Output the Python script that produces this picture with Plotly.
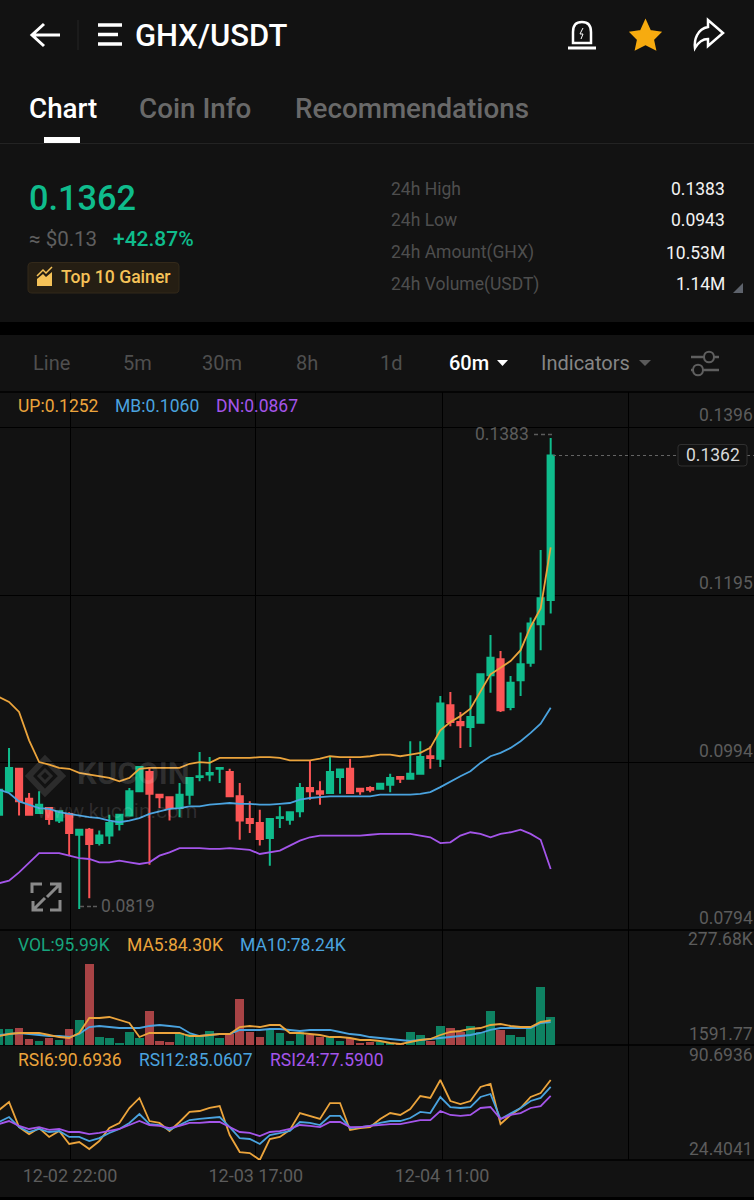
import re
import plotly.graph_objects as go

BG = '#121212'
GREEN = '#0fbc8c'
RED = '#fb5555'
ORANGE = '#eba43c'
BLUE = '#4aa3df'
PURPLE = '#a455ea'

# 60m candles, oldest first
opens = [.0932, .0960, .0987, .0951, .0934, .0940, .0925, .0933, .0908, .0914, .0898, .0907, .0921, .0931,
         .0960, .0983, .0956, .0953, .0940, .0956, .0977, .0980, .0987, .0983, .0954, .0927, .0922, .0904,
         .0928, .0926, .0936, .0964, .0960, .0958, .0977, .0987, .0963, .0964, .0963, .0968, .0977, .0975,
         .0981, .1002, .0999, .1063, .1043, .1037, .1042, .1099, .1118, .1061, .1093, .1114, .1160, .1189]
highs = [.0964, .1012, .0987, .0958, .0960, .0940, .0936, .0935, .0914, .0916, .0913, .0932, .0932, .0964,
         .0989, .0989, .0956, .0953, .0970, .0976, .1007, .1001, .0988, .0987, .0970, .0948, .0938, .0927,
         .0942, .0936, .0970, .0997, .0972, .1001, .0986, .0999, .0964, .0966, .0969, .0981, .0977, .1020,
         .1020, .1014, .1074, .1079, .1055, .1075, .1100, .1147, .1128, .1098, .1150, .1168, .1249, .1383]
lows = [.0932, .0960, .0931, .0932, .0934, .0920, .0922, .0883, .0819, .0832, .0895, .0897, .0913, .0931,
        .0960, .0872, .0940, .0925, .0929, .0944, .0972, .0972, .0970, .0954, .0902, .0910, .0895, .0871,
        .0916, .0920, .0929, .0950, .0944, .0958, .0957, .0957, .0956, .0959, .0962, .0959, .0970, .0975,
        .0981, .0987, .0989, .1038, .1012, .1013, .1042, .1078, .1055, .1057, .1074, .1109, .1129, .1173]
closes = [.0962, .0988, .0948, .0932, .0944, .0927, .0936, .0910, .0914, .0897, .0907, .0922, .0932, .0960,
          .0989, .0957, .0953, .0940, .0956, .0976, .0978, .0982, .0988, .0954, .0925, .0922, .0903, .0927,
          .0929, .0935, .0964, .0960, .0957, .0983, .0986, .0958, .0960, .0962, .0969, .0976, .0975, .0981,
          .1001, .1000, .1065, .1043, .1039, .1049, .1100, .1120, .1057, .1090, .1112, .1161, .1191, .1362]

boll_up = [.1073, .1067, .1055, .1021, .0995, .0992, .0988, .0987, .0982, .0980, .0978, .0976, .0972, .0976,
           .0987, .0988, .0988, .0988, .0988, .0993, .0995, .0994, .1000, .1000, .1000, .1000, .1001, .1001,
           .1000, .0997, .0997, .0997, .0999, .1002, .1001, .1001, .1001, .1002, .1004, .1004, .1002, .1004,
           .1006, .1012, .1033, .1043, .1050, .1059, .1079, .1100, .1108, .1116, .1129, .1157, .1179, .1252]
boll_mb = [.0962, .0958, .0948, .0944, .0940, .0939, .0935, .0933, .0931, .0929, .0928, .0925, .0923, .0925,
           .0928, .0933, .0936, .0939, .0940, .0942, .0942, .0944, .0945, .0946, .0945, .0945, .0944, .0944,
           .0945, .0946, .0950, .0952, .0953, .0954, .0954, .0954, .0954, .0954, .0956, .0956, .0956, .0956,
           .0957, .0959, .0965, .0972, .0978, .0984, .0994, .1002, .1006, .1012, .1020, .1030, .1041, .1060]
boll_dn = [.0850, .0853, .0863, .0875, .0886, .0886, .0886, .0883, .0880, .0879, .0875, .0875, .0877, .0875,
           .0873, .0875, .0883, .0887, .0892, .0892, .0892, .0891, .0891, .0892, .0891, .0890, .0885, .0887,
           .0889, .0895, .0901, .0905, .0907, .0907, .0907, .0907, .0907, .0908, .0909, .0909, .0909, .0909,
           .0907, .0905, .0898, .0899, .0907, .0911, .0909, .0905, .0909, .0911, .0914, .0909, .0902, .0867]

vol_k = [54.9, 54.9, 58.3, 20.6, 13.7, 24.0, 17.2, 54.9, 85.8, 277.68, 27.4, 24.0, 6.9, 44.6,
         24.0, 116.6, 13.7, 10.3, 41.2, 37.7, 30.9, 48.0, 24.0, 37.7, 157.8, 44.6, 27.4, 54.9,
         41.2, 13.7, 44.6, 34.3, 27.4, 27.4, 13.7, 24.0, 6.9, 10.3, 10.3, 6.9, 3.4, 44.6,
         34.3, 13.7, 65.2, 58.3, 44.6, 65.2, 44.6, 116.6, 51.5, 34.3, 27.4, 61.7, 198.9, 95.99]
vol_ma5 = [30.9, 37.7, 41.2, 41.2, 41.2, 34.3, 27.4, 24.0, 41.2, 92.6, 92.6, 96.0, 85.8, 75.5,
           27.4, 41.2, 41.2, 41.2, 41.2, 30.9, 30.9, 34.3, 37.7, 37.7, 61.7, 65.2, 61.7, 68.6,
           68.6, 41.2, 41.2, 37.7, 34.3, 27.4, 27.4, 24.0, 17.2, 17.2, 13.7, 6.9, 3.4, 10.3,
           17.2, 20.6, 34.3, 44.6, 48.0, 54.9, 58.3, 68.6, 72.0, 65.2, 61.7, 61.7, 78.9, 84.30]
vol_ma10 = [34.3, 37.7, 41.2, 37.7, 34.3, 30.9, 30.9, 27.4, 37.7, 61.7, 65.2, 61.7, 58.3, 58.3,
            58.3, 65.2, 68.6, 65.2, 61.7, 41.2, 30.9, 34.3, 37.7, 37.7, 51.5, 51.5, 51.5, 54.9,
            54.9, 51.5, 48.0, 51.5, 51.5, 51.5, 44.6, 37.7, 34.3, 27.4, 24.0, 20.6, 17.2, 13.7,
            17.2, 20.6, 24.0, 27.4, 30.9, 34.3, 41.2, 51.5, 58.3, 58.3, 58.3, 58.3, 75.5, 78.24]

rsi6 = [65.8, 72.5, 51.7, 45.9, 50.9, 43.5, 48.4, 37.7, 39.3, 33.5, 40.1, 50.9, 55.1, 67.5,
        75.8, 56.7, 55.1, 48.4, 55.9, 64.2, 65.0, 67.5, 69.1, 45.1, 31.0, 30.2, 24.40, 41.8,
        43.5, 49.3, 63.3, 60.9, 58.4, 71.6, 71.6, 49.3, 50.9, 51.7, 58.4, 63.3, 61.7, 66.7,
        77.4, 75.8, 90.7, 73.3, 70.8, 73.3, 84.9, 87.4, 54.2, 61.7, 67.5, 76.6, 79.9, 90.69]
rsi12 = [55.9, 60.0, 51.7, 47.6, 50.1, 47.6, 48.4, 43.5, 43.5, 40.1, 42.6, 46.8, 50.1, 55.1,
         62.5, 54.2, 53.4, 49.3, 53.4, 57.5, 58.4, 59.2, 60.0, 51.7, 42.6, 41.8, 37.7, 45.1,
         46.8, 48.4, 55.9, 55.1, 53.4, 60.9, 60.9, 50.9, 51.7, 52.6, 55.1, 56.7, 56.7, 59.2,
         64.2, 63.3, 76.6, 68.3, 67.5, 68.3, 76.6, 79.1, 58.4, 63.3, 67.5, 73.3, 75.8, 85.06]
rsi24 = [54.2, 56.7, 52.6, 50.1, 51.7, 49.3, 50.1, 47.6, 47.6, 45.9, 46.8, 48.4, 50.1, 53.4,
         56.7, 53.4, 52.6, 50.9, 52.6, 55.1, 55.1, 55.9, 55.9, 51.7, 47.6, 46.8, 44.3, 47.6,
         48.4, 50.1, 53.4, 52.6, 51.7, 55.9, 55.9, 51.7, 51.7, 52.6, 53.4, 54.2, 54.2, 55.9,
         57.5, 57.5, 65.0, 61.7, 60.9, 61.7, 67.5, 68.3, 58.4, 61.7, 63.3, 67.5, 69.1, 77.59]

time_ticks = [7.08, 25.6, 44.17, 62.71]
time_labels = ['12-02 22:00', '12-03 17:00', '12-04 11:00', '']
price_ticks = [.1396, .1195, .0994, .0794]

x = list(range(len(closes)))
W, H = 754, 1200


def py(y):
    return 1 - y / H


def svg(d):
    # page pixels -> paper coordinates for a small svg path
    vals = iter([0, 1] * 200)
    def conv(m):
        v = float(m.group())
        return f'{v / W:.5f}' if next(vals) == 0 else f'{py(v):.5f}'
    return re.sub(r'-?\d+\.?\d*', conv, d)


shapes = []
annots = []


def draw(d, color=None, width=2, fill=None, layer='above'):
    shapes.append(dict(type='path', xref='paper', yref='paper', path=svg(d), layer=layer,
                       line=dict(color=color or 'rgba(0,0,0,0)', width=width if color else 0),
                       fillcolor=fill or 'rgba(0,0,0,0)'))


def label(text, px_x, px_y, size, color, anchor='left', weight=400):
    # glyphs carry a little side bearing, pull left aligned text back onto the mark
    if anchor == 'left':
        px_x -= size * 0.03
    annots.append(dict(text=text, x=px_x / W, y=py(px_y), xref='paper', yref='paper', showarrow=False,
                       xanchor=anchor, yanchor='middle', borderpad=0,
                       font=dict(family='Roboto', size=size, color=color, weight=weight)))


# header
draw('M 60 35 L 33 35 M 44 24 L 32 35 L 44 46', 'white', 3, layer='above')
draw('M 78 20 L 78 50', '#242424', 1)
draw('M 98 25 L 122 25 M 98 34.5 L 118 34.5 M 98 44 L 122 44', 'white', 3.5)
label('GHX/USDT', 135, 35, 31, 'white', weight=500)
draw('M 573 43 L 573 32 Q 573 22 582 22 Q 591 22 591 32 L 591 43 Z', 'white', 2.5)
draw('M 568 48 L 596 48', 'white', 3)
draw('M 583 28 L 580 34 L 583 34 L 581 39', 'white', 1)
draw('M 645.5 21 L 650 31 L 660 32.5 L 653 39.5 L 655 49 L 645.5 44 L 636 49 L 638 39.5 L 631 32.5 L 641 31 Z',
     '#f7ab0f', 2, '#f7ab0f')
draw('M 723 33 L 708 20 L 708 27 C 697 29 694 40 695 48 C 699 41 703 39 708 39 L 708 46 Z', 'white', 2.5)

label('Chart', 29, 109, 27.8, 'white', weight=500)
label('Coin Info', 139, 109, 27.8, '#696969', weight=500)
label('Recommendations', 295, 109, 27.8, '#696969', weight=500)
draw('M 44 140 L 80 140', 'white', 6)
draw('M 0 143.5 L 754 143.5', '#242424', 1)

# price block
label('0.1362', 29, 198, 34.3, GREEN, weight=500)
label('≈ $0.13', 29, 239, 20.5, '#5f5f5f')
label('+42.87%', 113, 239, 21, GREEN, weight=500)
draw('M 32 262.5 L 175 262.5 Q 179 262.5 179 266 L 179 289 Q 179 293 175 293 L 32 293 Q 28 293 28 289 '
     'L 28 266 Q 28 262.5 32 262.5 Z', '#33291a', 1, '#251e13')
draw('M 37 286 L 37 279 L 43 274 L 46 277 L 52 272 L 52 286 Z', None, 0, '#f5c258')
draw('M 37 276 L 43 270 L 46 273 L 52 267', '#f5c258', 1.5)
label('Top 10 Gainer', 61, 277, 17.6, '#f5c258', weight=500)

stat_names = ['24h High', '24h Low', '24h Amount(GHX)', '24h Volume(USDT)']
stat_vals = ['0.1383', '0.0943', '10.53M', '1.14M']
for name, val, yy in zip(stat_names, stat_vals, [189, 220.5, 252.5, 284]):
    label(name, 391, yy, 17.5, '#4e4e4e')
    label(val, 726, yy, 17.5, '#f2f2f2', anchor='right')
draw('M 743 283 L 743 293 L 733 293 Z', None, 0, '#5d626b')

# black band between blocks
draw('M 0 322 L 754 322 L 754 335 L 0 335 Z', None, 0, '#000000', layer='below')
draw('M 0 1197 L 754 1197 L 754 1200 L 0 1200 Z', None, 0, '#000000', layer='below')

# interval tabs
for t, xx in zip(['Line', '5m', '30m', '8h', '1d'], [33, 123, 202, 296, 380]):
    label(t, xx, 363, 20, '#4f4f4f')
label('60m', 449, 363, 20, 'white', weight=500)
draw('M 497 360 L 508 360 L 502.5 366 Z', None, 0, 'white')
label('Indicators', 541, 363, 20, '#858585')
draw('M 639 360 L 651 360 L 645 366 Z', None, 0, '#5a5a5a')
draw('M 691 357 L 704 357 M 714 357 L 719 357 M 691 370 L 693 370 M 703 370 L 719 370', '#5f5f5f', 2.5)
draw('M 704 357 C 704 350 714 350 714 357 C 714 364 704 364 704 357 Z', '#5f5f5f', 2)
draw('M 693 370 C 693 363 703 363 703 370 C 703 377 693 377 693 370 Z', '#5f5f5f', 2)

# pane separators
for yy in [392, 930, 1045, 1160]:
    draw(f'M 0 {yy} L 754 {yy}', '#000000', 1.5, layer='below')

# watermark
draw('M 45 759 L 62 776 L 45 793 L 29 776 Z', '#2c2c2c', 6, layer='below')
draw('M 45 770 L 51 776 L 45 782 L 39 776 Z', '#2c2c2c', 3, layer='below')
label('KUCOIN', 77, 773, 31, 'rgba(255,255,255,0.13)', weight=700)
label('www.kucoin.com', 37, 811, 21, 'rgba(255,255,255,0.12)')

# expand icon
draw('M 32 893 L 32 884 L 42 884 M 60 900 L 60 910 L 50 910', '#8a8a8a', 3)
draw('M 47 897 L 59 885 M 50 884 L 60 884 L 60 893', '#8a8a8a', 3)
draw('M 45 898 L 33 910 M 33 901 L 33 910 L 43 910', '#8a8a8a', 3)

# indicator headers
label('UP:0.1252', 18, 406, 17.5, ORANGE)
label('MB:0.1060', 115, 406, 17.5, BLUE)
label('DN:0.0867', 216, 406, 17.5, PURPLE)
label('VOL:95.99K', 18, 945, 17.5, '#17a57d')
label('MA5:84.30K', 127, 945, 17.5, ORANGE)
label('MA10:78.24K', 240, 945, 17.5, BLUE)
label('RSI6:90.6936', 18, 1060, 17.5, ORANGE)
label('RSI12:85.0607', 139, 1060, 17.5, BLUE)
label('RSI24:77.5900', 270, 1060, 17.5, PURPLE)

# right side scale labels, these sit above their grid line
for txt, yy in zip(['0.1396', '0.1195', '0.0994', '0.0794'], [415, 583, 751, 918]):
    label(txt, 754, yy, 17.5, '#5c5c5c', anchor='right')
label('277.68K', 754, 939, 17.5, '#5c5c5c', anchor='right')
label('1591.77', 754, 1034, 17.5, '#5c5c5c', anchor='right')
label('90.6936', 754, 1055, 17.5, '#5c5c5c', anchor='right')
label('24.4041', 754, 1149, 17.5, '#5c5c5c', anchor='right')

# last price tag and extremes
for x0, x1 in [(553, 678), (747, 754)]:
    shapes.append(dict(type='line', xref='paper', yref='y', x0=x0 / W, x1=x1 / W, y0=closes[-1], y1=closes[-1],
                       line=dict(color='#666666', width=1, dash='dot')))
draw('M 681 444.5 L 744 444.5 Q 747 444.5 747 447 L 747 463 Q 747 466 744 466 L 681 466 Q 678 466 678 463 '
     'L 678 447 Q 678 444.5 681 444.5 Z', '#303030', 1, BG)
label(f'{closes[-1]:.4f}', 712.5, 455, 17.5, '#d8d8d8', anchor='center')
label(f'{max(highs):.4f}', 530, 434, 17.5, '#5c5c5c', anchor='right')
draw('M 534 434.5 L 538 434.5 M 541 434.5 L 545 434.5 M 548 434.5 L 552 434.5', '#5c5c5c', 1.5)
draw('M 80 906.5 L 84 906.5 M 87 906.5 L 91 906.5 M 93 906.5 L 97 906.5', '#5c5c5c', 1.5)
label(f'{min(lows):.4f}', 101, 906, 17.5, '#5c5c5c')

fig = go.Figure()

fig.add_trace(go.Candlestick(x=x, open=opens, high=highs, low=lows, close=closes, whiskerwidth=0,
                             increasing=dict(line=dict(color=GREEN, width=2), fillcolor=GREEN),
                             decreasing=dict(line=dict(color=RED, width=2), fillcolor=RED),
                             xaxis='x', yaxis='y'))
for vals, col in [(boll_up, ORANGE), (boll_mb, BLUE), (boll_dn, PURPLE)]:
    fig.add_trace(go.Scatter(x=x, y=vals, mode='lines', line=dict(color=col, width=1.8), xaxis='x', yaxis='y'))

bar_colors = ['#0e8262' if c >= o else '#a84345' for o, c in zip(opens, closes)]
fig.add_trace(go.Bar(x=x, y=vol_k, width=0.85, marker=dict(color=bar_colors, line=dict(width=0)),
                     xaxis='x2', yaxis='y2'))
for vals, col in [(vol_ma10, BLUE), (vol_ma5, ORANGE)]:
    fig.add_trace(go.Scatter(x=x, y=vals, mode='lines', line=dict(color=col, width=1.8), xaxis='x2', yaxis='y2'))

for vals, col in [(rsi6, ORANGE), (rsi12, BLUE), (rsi24, PURPLE)]:
    fig.add_trace(go.Scatter(x=x, y=vals, mode='lines', line=dict(color=col, width=1.8), cliponaxis=False,
                             xaxis='x3', yaxis='y3'))

xrange = [0.1, 75.27]
x_common = dict(range=xrange, tickmode='array', tickvals=time_ticks, showgrid=True, gridcolor='#000000', gridwidth=1,
                zeroline=False, showline=False, ticks='', fixedrange=True)

fig.update_layout(
    width=W, height=H,
    margin=dict(l=0, r=0, t=0, b=0),
    paper_bgcolor=BG, plot_bgcolor='rgba(0,0,0,0)',
    showlegend=False, boxgap=0.12, bargap=0,
    font=dict(family='Roboto'),
    shapes=shapes, annotations=annots,
    xaxis=dict(domain=[0, 1], showticklabels=False, rangeslider=dict(visible=False), anchor='y', **x_common),
    xaxis2=dict(domain=[0, 1], showticklabels=False, anchor='y2', **x_common),
    xaxis3=dict(domain=[0, 1], anchor='y3', ticktext=time_labels, ticklabelstandoff=3,
                tickfont=dict(family='Roboto', size=18, color='#5c5c5c'), **x_common),
    yaxis=dict(domain=[py(930), py(392)], range=[.0794, .1438], tickmode='array', tickvals=price_ticks,
               showticklabels=False, showgrid=True, gridcolor='#000000', gridwidth=1, zeroline=False, fixedrange=True),
    yaxis2=dict(domain=[py(1045), py(930)], range=[0, 394.4], showticklabels=False, showgrid=False, zeroline=False,
                fixedrange=True),
    yaxis3=dict(domain=[py(1160), py(1045)], range=[24.4, 119.7], showticklabels=False, showgrid=False, zeroline=False,
                fixedrange=True),
)

fig.write_html("out.html", config={'displayModeBar': False},
               post_script="document.body.style.margin='0';document.body.style.background='#121212';")
